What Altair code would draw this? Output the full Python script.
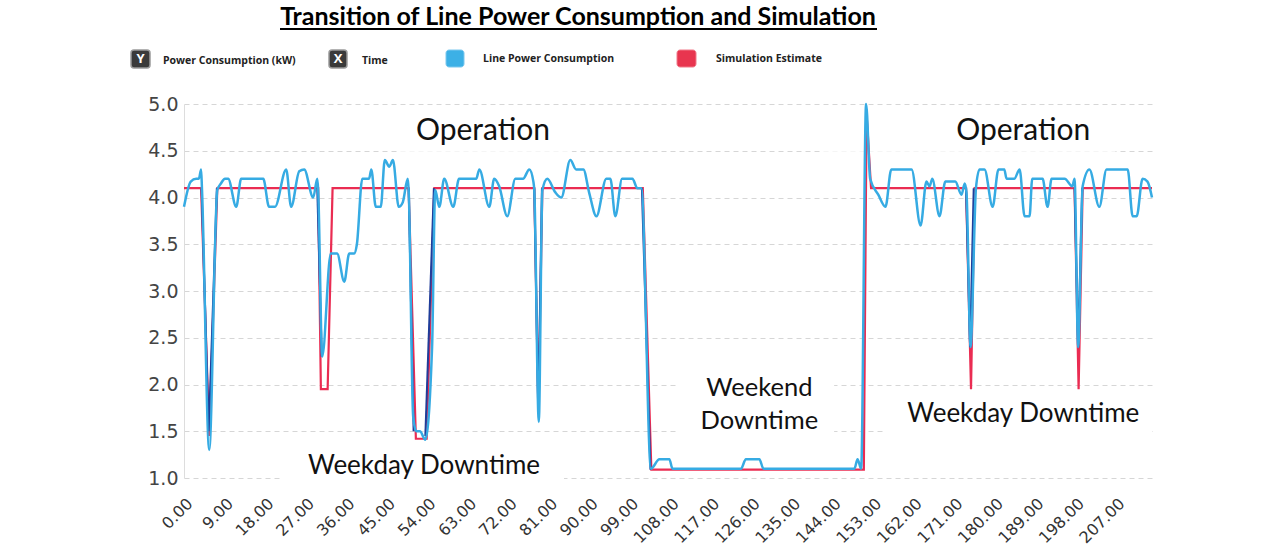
import altair as alt
import pandas as pd

# ---------------- data ----------------
blue_x = [0, 1.5, 2.7, 3.3, 3.8, 4.0, 5.6, 7.4, 8.2, 9.1, 9.8, 11.6, 12.7, 17.6, 18.9, 20.2,
          22.7, 23.8, 25.6, 26.7, 28.7, 29.6, 29.8, 30.7, 32.6, 34.0, 35.6, 36.7, 37.8, 38.4,
          39.6, 41.1, 41.6, 42.6, 43.7, 44.6, 45.6, 46.4, 47.7, 48.6, 49.7, 49.9, 50.9, 51.6,
          52.4, 53.6, 55.1, 55.8, 56.7, 57.8, 59.8, 61.1, 64.9, 65.6, 67.8, 68.9, 70.0, 71.8,
          73.6, 75.3, 76.7, 77.6, 77.8, 78.8, 79.6, 80.7, 82.4, 83.8, 85.8, 87.1, 88.7, 90.0,
          91.6, 93.8, 94.7, 95.8, 97.3, 99.6, 100.7, 101.6, 103.7, 105.6, 107.8, 108.5, 123.7,
          124.8, 127.8, 128.7, 148.9, 149.6, 150.4, 151.5, 152.4, 154.2, 155.8, 157.1, 161.6,
          163.6, 164.9, 165.6, 166.2, 167.8, 169.1, 171.3, 172.7, 173.4, 173.8, 174.7, 175.9,
          176.7, 177.8, 179.6, 180.9, 182.2, 182.7, 184.4, 185.6, 186.7, 187.8, 188.4, 190.7,
          191.8, 192.7, 195.6, 197.3, 197.8, 198.6, 199.6, 201.1, 203.3, 204.9, 209.6, 210.7,
          211.6, 212.9, 214.0, 215.0]
blue_y = [3.9, 4.17, 4.2, 4.2, 4.3, 4.08, 1.3, 4.08, 4.15, 4.2, 4.2, 3.9, 4.2, 4.2, 3.9, 3.9,
          4.3, 3.9, 4.28, 4.3, 4.0, 4.2, 4.08, 2.3, 3.4, 3.4, 3.1, 3.4, 3.4, 3.5,
          4.2, 4.2, 4.3, 3.9, 3.9, 4.4, 4.33, 4.4, 3.9, 3.95, 4.2, 4.08, 1.66, 1.5,
          1.5, 1.41, 2.4, 4.08, 3.9, 4.2, 3.9, 4.2, 4.2, 4.3, 3.9, 4.2, 4.12, 3.8,
          4.2, 4.2, 4.3, 4.17, 4.08, 1.6, 4.08, 4.2, 4.06, 4.0, 4.4, 4.3, 4.3, 4.05,
          3.8, 4.2, 4.2, 3.8, 4.2, 4.2, 4.1, 4.1, 1.1, 1.2, 1.2, 1.1, 1.1,
          1.2, 1.2, 1.1, 1.1, 1.2, 1.1, 5.0, 4.2, 4.03, 3.9, 4.3, 4.3,
          3.7, 4.17, 4.12, 4.2, 3.8, 4.17, 4.17, 4.03, 4.15, 4.05, 2.4, 4.1,
          4.3, 4.3, 3.9, 4.3, 4.3, 4.2, 4.2, 4.3, 3.8, 3.8, 4.2, 4.2,
          3.9, 4.2, 4.2, 4.12, 4.2, 2.4, 4.12, 4.3, 3.9, 4.3, 4.3, 3.8,
          3.8, 4.2, 4.17, 4.0]

red_x = [0, 3.8, 5.6, 7.4, 29.8, 30.4, 31.9, 33.0, 49.9, 51.5, 53.9, 55.6, 77.8, 78.7, 79.6,
         101.9, 103.8, 151.0, 151.6, 152.6, 173.7, 174.8, 175.6, 197.8, 198.7, 199.6, 215.0]
red_y = [4.1, 4.1, 1.45, 4.1, 4.1, 1.95, 1.95, 4.1, 4.1, 1.42, 1.42, 4.1, 4.1, 1.7, 4.1,
         4.1, 1.09, 1.09, 4.9, 4.1, 4.1, 1.95, 4.1, 4.1, 1.95, 4.1, 4.1]

# dark blue trace, visible only on the steep transitions
navy_seg = [1, 1, 1, 2, 2, 3, 3, 4, 4, 5, 5, 5, 6, 6, 6, 7, 7, 7, 8, 8, 8]
navy_x = [3.9, 5.5, 7.3, 29.6, 30.6, 49.9, 51.0, 53.6, 55.5, 77.8, 78.7, 79.5,
          101.7, 103.6, 103.9, 173.7, 174.6, 175.4, 197.8, 198.6, 199.5]
navy_y = [4.1, 1.5, 4.1, 4.1, 2.3, 4.1, 1.5, 1.45, 4.1, 4.1, 1.7, 4.1,
          4.1, 1.1, 1.1, 4.1, 2.4, 4.1, 4.1, 2.4, 4.1]

x_ticks = list(range(0, 208, 9))
y_ticks = [1.0, 1.5, 2.0, 2.5, 3.0, 3.5, 4.0, 4.5, 5.0]

ann_text = ["Operation", "Operation", "Weekday Downtime", "Weekend", "Downtime", "Weekday Downtime"]
ann_x = [66.4, 186.4, 53.3, 127.8, 127.8, 186.4]
ann_y = [4.71, 4.71, 1.13, 1.96, 1.61, 1.68]
ann_size = [30, 30, 26, 25.5, 25.5, 26]

box_x = [47.8, 141.8, 21.8, 109.3, 155.8]
box_x2 = [86.2, 206.9, 84.4, 144.4, 215.0]
box_y = [4.91, 4.91, 1.33, 2.18, 1.86]
box_y2 = [4.49, 4.49, 0.87, 1.35, 1.30]

# ---------------- chart ----------------
W, H = 968, 374
BLUE = "#36abe3"
RED = "#ea2c52"
NAVY = "#1f3d9a"

xscale = alt.Scale(domain=[0, 215], nice=False, zero=False)
yscale = alt.Scale(domain=[1, 5], nice=False, zero=False)
xaxis = alt.Axis(values=x_ticks, format=".2f", labelAngle=-45, labelFontSize=16,
                 labelColor="#333", labelFont="DejaVu Sans", grid=False, domain=False,
                 ticks=False, title=None, labelPadding=17, labelOverlap=False,
                 labelFlush=False)
yaxis = alt.Axis(values=y_ticks, format=".1f", labelFontSize=19, labelColor="#444",
                 labelFont="DejaVu Sans", grid=True, gridDash=[5, 4], gridColor="#d6d6d6",
                 domain=True, domainColor="#dddddd", ticks=False, title=None, labelPadding=6)

blue_df = pd.DataFrame({"x": blue_x, "y": blue_y})
red_df = pd.DataFrame({"x": red_x, "y": red_y})
navy_df = pd.DataFrame({"seg": navy_seg, "x": navy_x, "y": navy_y})
ann_df = pd.DataFrame({"t": ann_text, "x": ann_x, "y": ann_y, "s": ann_size})
box_df = pd.DataFrame({"x": box_x, "x2": box_x2, "y": box_y, "y2": box_y2})

X = alt.X("x:Q", scale=xscale, axis=xaxis)
Y = alt.Y("y:Q", scale=yscale, axis=yaxis)

boxes = alt.Chart(box_df).mark_rect(color="white").encode(x=X, x2="x2:Q", y=Y, y2="y2:Q")
red = alt.Chart(red_df).mark_line(color=RED, strokeWidth=2.2).encode(x=X, y=Y, order="x:Q")
navy = alt.Chart(navy_df).mark_line(color=NAVY, strokeWidth=2).encode(
    x=X, y=Y, detail="seg:N")
blue = alt.Chart(blue_df).mark_line(color=BLUE, strokeWidth=2.5, interpolate="monotone").encode(
    x=X, y=Y, order="x:Q")
ann = alt.Chart(ann_df).mark_text(font="Lato", color="#111", baseline="middle").encode(
    x=X, y=Y, text="t:N", size=alt.Size("s:Q", scale=None, legend=None))

# ---- title & legend (pixel positions relative to the plot origin) ----
def txt(s, px, py, **kw):
    return alt.Chart(pd.DataFrame({"t": [s]})).mark_text(**kw).encode(
        x=alt.value(px), y=alt.value(py), text="t:N")

def box(x1, x2, y1, y2, **kw):
    return alt.Chart(pd.DataFrame({"a": [0]})).mark_rect(**kw).encode(
        x=alt.value(x1), x2=alt.value(x2), y=alt.value(y1), y2=alt.value(y2))

title = txt("Transition of Line Power Consumption and Simulation", 394, -79,
            font="Lato", fontSize=25, fontWeight="bold", color="#000", align="center",
            baseline="alphabetic")
underline = alt.Chart(pd.DataFrame({"a": [0]})).mark_rule(color="#000", strokeWidth=2).encode(
    x=alt.value(96), x2=alt.value(693), y=alt.value(-75))

LF = dict(font="Open Sans", fontSize=10.5, fontWeight="bold", color="#222", align="left",
          baseline="middle")
legend_layers = [
    box(-53, -34, -54, -36, fill="#3a3a3a", stroke="#9a9a9a", strokeWidth=1.5, cornerRadius=3),
    txt("Y", -43.5, -45, font="Open Sans", fontSize=13, fontWeight="bold", color="white",
        align="center", baseline="middle"),
    txt("Power Consumption (kW)", -21, -43, **LF),
    box(145, 163, -54, -36, fill="#3a3a3a", stroke="#9a9a9a", strokeWidth=1.5, cornerRadius=3),
    txt("X", 154, -45, font="Open Sans", fontSize=13, fontWeight="bold", color="white",
        align="center", baseline="middle"),
    txt("Time", 178, -43, **LF),
    box(262, 280, -54, -37, fill="#3cb0e6", stroke="#7cc8ee", strokeWidth=1, cornerRadius=3),
    txt("Line Power Consumption", 299, -45, **LF),
    box(493, 512, -54, -37, fill="#e8354f", stroke="#f07a8a", strokeWidth=1, cornerRadius=3),
    txt("Simulation Estimate", 532, -45, **LF),
]

chart = alt.layer(boxes, red, navy, blue, ann, title, underline, *legend_layers).properties(
    width=W, height=H,
    autosize=alt.AutoSizeParams(type="none"),
    padding={"left": 184, "top": 104, "right": 132, "bottom": 74},
    background="white",
).configure_view(stroke=None)

chart.save("out.html", embed_options={"renderer": "svg", "actions": False})
